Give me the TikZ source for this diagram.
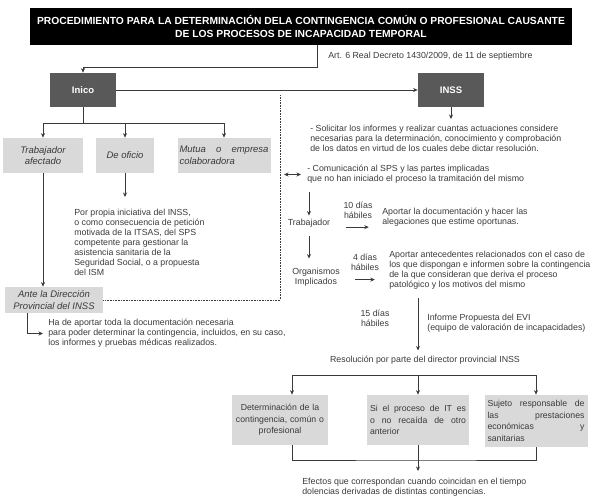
\documentclass[tikz,border=0pt]{standalone}
\usepackage{fontspec}
\setmainfont{Liberation Sans}
\usetikzlibrary{arrows.meta}
\definecolor{gris-osc}{HTML}{595959}
\definecolor{gris-cla}{HTML}{D9D9D9}
\definecolor{gris-txt}{HTML}{3A3A3A}

\begin{document}
\begin{tikzpicture}[x=1pt, y=-1pt, >={Stealth[length=4.5pt,width=4pt]}, color=gris-txt, line width=0.7pt,
	   titulo/.style={fill=black, text=white, font=\bfseries\fontsize{10.3}{12.5}\selectfont, align=center, minimum width=542pt, minimum height=37pt, inner sep=0pt},
	   oscuro/.style={fill=gris-osc, text=white, font=\bfseries\fontsize{9.5}{11}\selectfont, minimum width=66pt, minimum height=34pt, inner sep=0pt},
	   claro/.style={fill=gris-cla, font=\itshape\fontsize{9.5}{11.5}\selectfont, align=center, inner sep=2pt},
	   recuadro/.style={fill=gris-cla, font=\fontsize{8.7}{11.5}\selectfont, inner sep=3pt},
	   texto/.style={font=\fontsize{8.8}{10}\selectfont, align=left, inner sep=0pt}]
	  \useasboundingbox (0,0) rectangle (600,498);
	  % cabecera
	  \node[titulo] (tit) at (301,26.5) {PROCEDIMIENTO PARA LA DETERMINACIÓN DELA CONTINGENCIA COMÚN O PROFESIONAL CAUSANTE\\DE LOS PROCESOS DE INCAPACIDAD TEMPORAL};
	  \node[texto, anchor=west] (art) at (328,56) {Art. 6 Real Decreto 1430/2009, de 11 de septiembre};
	  \node[oscuro] (inico) at (83,90) {Inico};
	  \node[oscuro] (inss) at (451,90) {INSS};
	  % lado izquierdo
	  \node[claro, minimum width=80pt, minimum height=35pt] (trab) at (43,155.5) {Trabajador\\afectado};
	  \node[claro, minimum width=58pt, minimum height=35pt] (ofic) at (125,155.5) {De oficio};
	  \node[claro, text width=89pt, align=justify, minimum height=35pt] (mutua) at (224,155.5) {Mutua o empresa\linebreak colaboradora};
	  \node[texto, anchor=north west] (prop) at (74,209) {Por propia iniciativa del INSS,\\o como consecuencia de petición\\motivada de la ITSAS, del SPS\\competente para gestionar la\\asistencia sanitaria de la\\Seguridad Social, o a propuesta\\del ISM};
	  \node[claro, minimum width=98pt, minimum height=26pt] (ante) at (54,300) {Ante la Dirección\\Provincial del INSS};
	  \node[texto, anchor=north west] (aport) at (48,319) {Ha de aportar toda la documentación necesaria\\para poder determinar la contingencia, incluidos, en su caso,\\los informes y pruebas médicas realizados.};
	  % lado derecho
	  \node[texto, anchor=north west] (sol) at (310,125) {- Solicitar los informes y realizar cuantas actuaciones considere\\necesarias para la determinación, conocimiento y comprobación\\de los datos en virtud de los cuales debe dictar resolución.};
	  \node[texto, anchor=west, inner xsep=6pt] (comm) at (301,174.5) {- Comunicación al SPS y las partes implicadas\\que no han iniciado el proceso la tramitación del mismo};
	  \node[texto, align=center, inner sep=3pt] (trabj) at (309,223) {Trabajador};
	  \node[texto, align=center, inner sep=3pt] (org) at (316,277) {Organismos\\Implicados};
	  \node[texto, align=center] (d10) at (358,210.5) {10 días\\hábiles};
	  \node[texto, anchor=west] (ap1) at (382,217) {Aportar la documentación y hacer las\\alegaciones que estime oportunas.};
	  \node[texto, align=center] (d4) at (365,262) {4 días\\hábiles};
	  \node[texto, anchor=north west] (ap2) at (389,251) {Aportar antecedentes relacionados con el caso de\\los que dispongan e informen sobre la contingencia\\de la que consideran que deriva el proceso\\patológico y los motivos del mismo};
	  \node[texto, align=center] (d15) at (375,318.5) {15 días\\hábiles};
	  \node[texto, anchor=west] (evi) at (427,323) {Informe Propuesta del EVI\\(equipo de valoración de incapacidades)};
	  \node[texto] (res) at (425,360) {Resolución por parte del director provincial INSS};
	  % resolucion
	  \node[recuadro, text width=90pt, align=center, minimum height=50pt] (det) at (280,420) {Determinación de la\\contingencia, común o\\profesional};
	  \node[recuadro, text width=96pt, align=justify, minimum height=50pt] (si) at (418,420) {Si el proceso de IT es\linebreak o no recaída de otro\linebreak anterior};
	  \node[recuadro, text width=97pt, align=justify, minimum height=52pt] (suj) at (536,421) {Sujeto responsable de\linebreak las prestaciones\linebreak económicas y\linebreak sanitarias};
	  \node[texto, anchor=north west] (efe) at (302,478) {Efectos que correspondan cuando coincidan en el tiempo\\dolencias derivadas de distintas contingencias.};
	  \coordinate (codo) at (317,67);
	  \coordinate (rama) at (83,123);
	  \coordinate (punt) at (280,95);
	  \coordinate (v15) at (418,298);
	  \coordinate (split) at (418,375);
	  \coordinate (junta) at (418,460);
	  \draw[->] (tit.south -| codo) -- (codo) -| (inico.north); \draw[->] (inico.east) -- (inss.west);
	  \draw[->] (inico.south) -- (rama) -| (trab.north); \draw[->] (rama) -| (ofic.north); \draw[->] (rama) -| (mutua.north);
	  \draw[->] (trab.south) -- (trab.south |- ante.north); \draw[->, shorten >=12pt] (ofic.south) -- (ofic.south |- prop.north);
	  \draw[->, shorten >=5pt] (ante.south west) ++(23pt,0) |- (aport.west);
	  \draw[densely dotted, line width=0.6pt] (ante.east) -| (punt);
	  \draw[<->, shorten <=4pt] (punt |- comm.west) -- (comm.west);
	  \draw[->, shorten >=6pt] (inss.south) -- (inss.south |- sol.north);
	  \draw[->, shorten <=8pt] (trabj.north |- comm.south) -- (trabj.north);
	  \draw[->, shorten <=6pt, shorten >=6pt] (trabj.south) -- (trabj.south |- org.north);
	  \draw[->, shorten <=3pt, shorten >=4pt] ([yshift=-8pt]d10.south west) -- ([yshift=-8pt]d10.south east);
	  \draw[->, shorten <=4.5pt, shorten >=4.5pt] ([yshift=-9pt]d4.south west) -- ([yshift=-9pt]d4.south east);
	  \draw[->, shorten >=5pt] (v15) -- (v15 |- res.north);
	  \draw[->] (split) -| ([xshift=12pt]det.north); \draw[->] (split) -- (si.north); \draw[->] (split) -| (suj.north);
	  \draw ([xshift=12pt]det.south) |- (junta) -| (suj.south); \draw[->, shorten >=7pt] (si.south) -- (si.south |- efe.north);
	\end{tikzpicture}
\end{document}
